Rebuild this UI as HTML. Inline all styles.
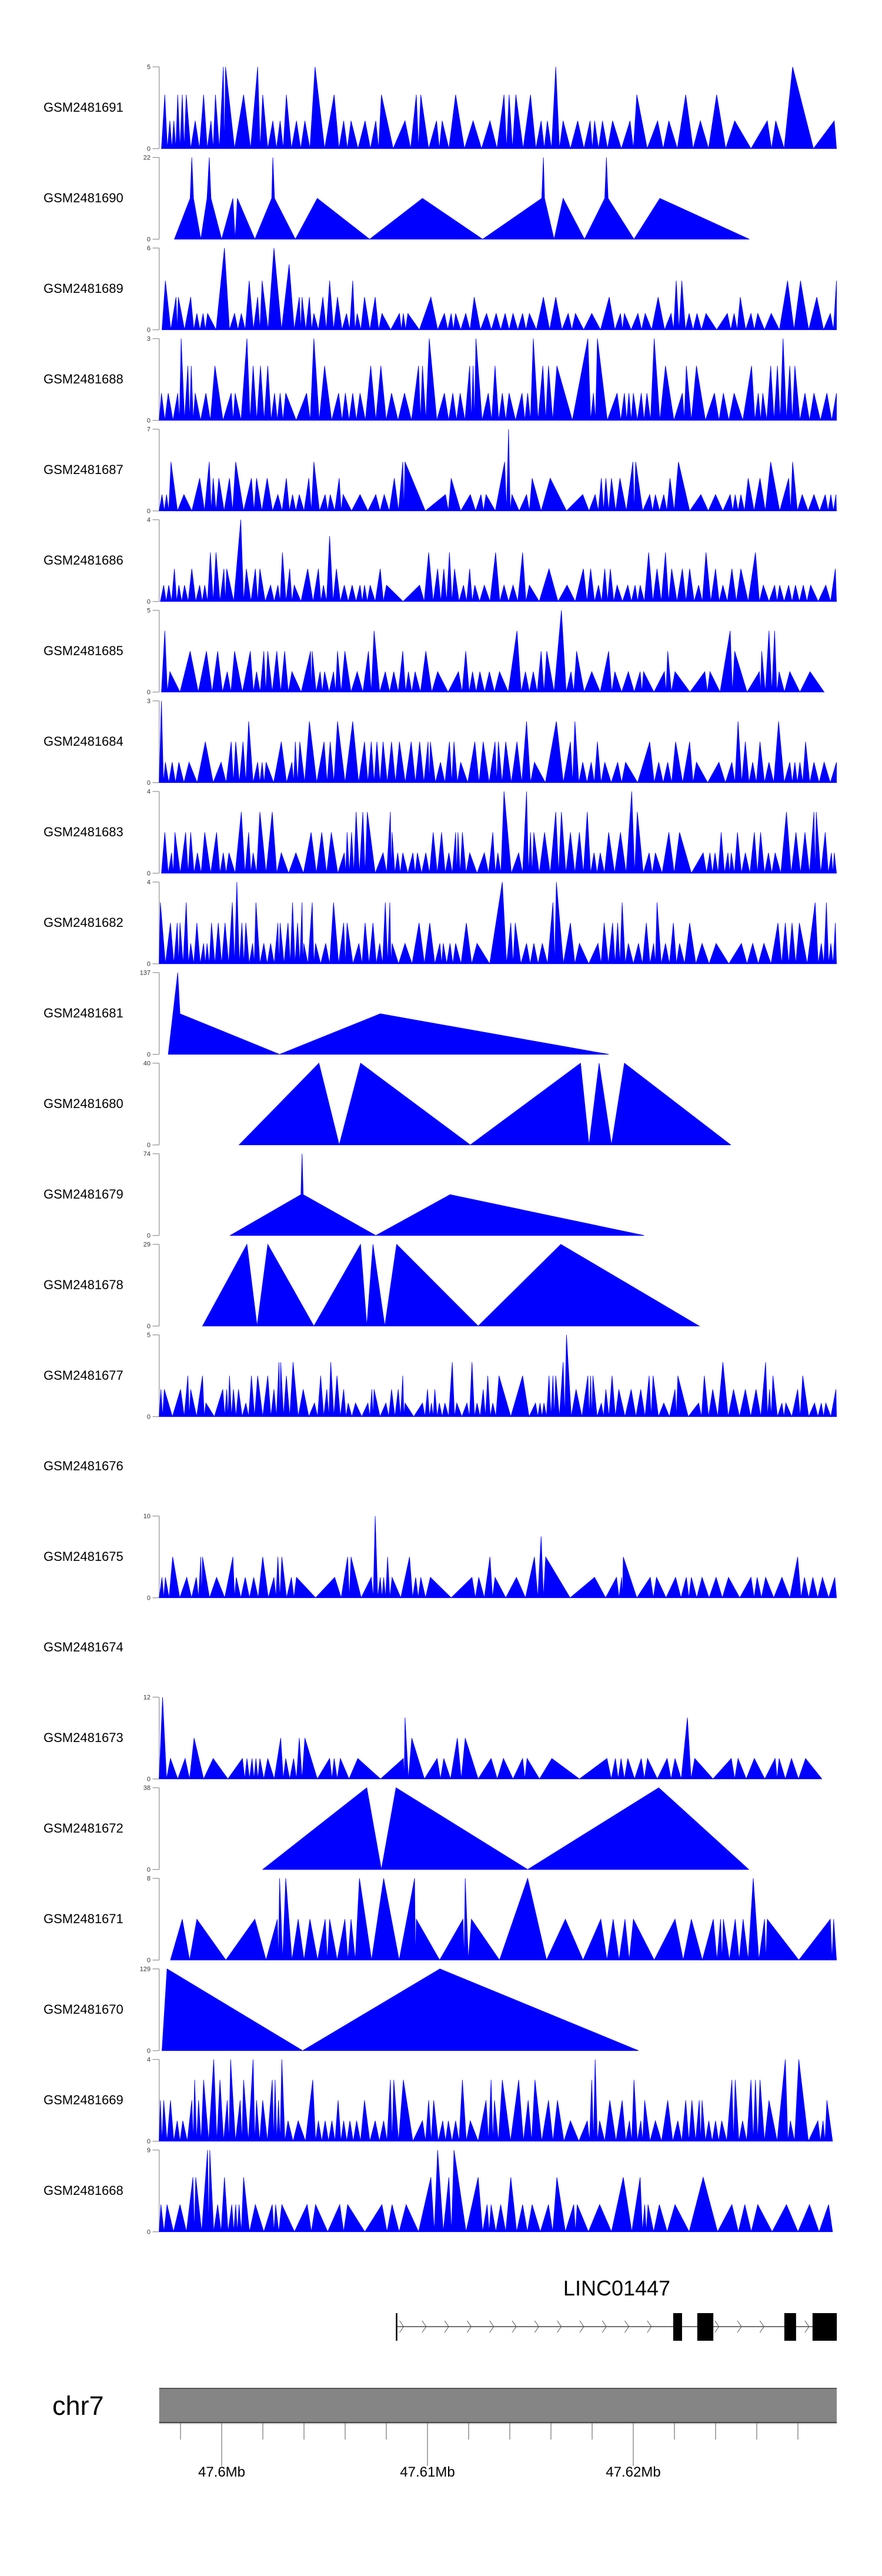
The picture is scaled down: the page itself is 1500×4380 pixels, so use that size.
<!DOCTYPE html>
<html><head><meta charset="utf-8">
<style>
html,body{margin:0;padding:0;background:#fff;}
svg{display:block;font-family:"Liberation Sans",Arial,sans-serif;}
</style></head>
<body>
<svg id="chart" width="1500" height="4380" viewBox="0 0 1500 4380" xmlns="http://www.w3.org/2000/svg"></svg>
<script>
// ---- data ----
const sampleNames = ["GSM2481691","GSM2481690","GSM2481689","GSM2481688","GSM2481687","GSM2481686","GSM2481685","GSM2481684","GSM2481683","GSM2481682","GSM2481681","GSM2481680","GSM2481679","GSM2481678","GSM2481677","GSM2481676","GSM2481675","GSM2481674","GSM2481673","GSM2481672","GSM2481671","GSM2481670","GSM2481669","GSM2481668"];
const axisMax = [5,22,6,3,7,4,5,3,4,4,137,40,74,29,5,null,10,null,12,38,8,129,4,9];
const trackMode = ["peaks","profile","peaks","peaks","peaks","peaks","peaks","peaks","peaks","peaks","profile","profile","profile","profile","peaks","none","peaks","none","peaks","profile","peaks","profile","peaks","peaks"];
// positions are genomic bin indices (window bins 283..1487)
const cov691 = [[10+283,3.3],[19+283,1.7],[26+283,1.7],[33+283,3.3],[41+283,3.3],[48+283,3.3],[64+283,1.7],[79+283,3.3],[92+283,1.7],[100+283,3.3],[114+283,5],[118+283,5],[150+283,3.3],[175+283,5],[184+283,3.3],[202+283,1.7],[215+283,1.7],[226+283,3.3],[244+283,1.7],[259+283,1.7],[277+283,5],[311+283,3.3],[328+283,1.7],[341+283,1.7],[366+283,1.7],[385+283,1.7],[395+283,3.3],[437+283,1.7],[457+283,3.3],[465+283,3.3],[493+283,1.7],[503+283,1.7],[527+283,3.3],[558+283,1.7],[588+283,1.7],[613+283,3.3],[622+283,3.3],[634+283,3.3],[660+283,3.3],[679+283,1.7],[690+283,1.7],[705+283,5],[718+283,1.7],[744+283,1.7],[766+283,1.7],[774+283,1.7],[788+283,1.7],[806+283,1.7],[837+283,1.7],[849+283,3.3],[886+283,1.7],[906+283,1.7],[936+283,3.3],[962+283,1.7],[991+283,3.3],[1023+283,1.7],[1081+283,1.7],[1096+283,1.7],[1126+283,5],[1200+283,1.7],[1204+283,0]];
const cov690 = [[310,0],[338,11],[341,22],[344,11],[357,0],[368,11],[372,22],[375,11],[394,0],[414,11],[418,0],[422,11],[453,0],[483,11],[485,22],[488,11],[525,0],[564,11],[657,0],[751,11],[858,0],[963,11],[966,22],[968,11],[985,0],[1001,11],[1039,0],[1075,11],[1078,22],[1081,11],[1127,0],[1173,11],[1332,0]];
const cov689 = [[294,3.6],[313,2.4],[317,2.4],[339,2.4],[350,1.2],[361,1.2],[369,1.2],[399,6],[417,1.2],[429,1.2],[443,3.6],[458,2.4],[466,3.6],[487,6],[514,4.8],[532,2.4],[537,2.4],[550,2.4],[558,1.2],[574,2.4],[586,3.6],[600,2.4],[616,1.2],[627,3.6],[635,1.2],[648,2.4],[667,2.4],[679,1.2],[710,1.2],[717,1.2],[725,1.2],[766,2.4],[790,1.2],[802,1.2],[810,1.2],[828,1.2],[843,2.4],[865,1.2],[882,1.2],[898,1.2],[912,1.2],[929,1.2],[941,1.2],[966,2.4],[988,2.4],[1010,1.2],[1023,1.2],[1052,1.2],[1083,2.4],[1103,1.2],[1110,1.2],[1134,1.2],[1147,1.2],[1170,2.4],[1193,1.2],[1202,3.6],[1212,3.6],[1225,1.2],[1239,1.2],[1255,1.2],[1293,1.2],[1305,1.2],[1316,2.4],[1335,1.2],[1347,1.2],[1371,1.2],[1400,3.6],[1423,3.6],[1452,2.4],[1476,1.2],[1487,3.6]];
const cov688 = [[287,1],[299,1],[316,1],[322,3],[334,2],[340,2],[347,1],[366,1],[382,2],[411,1],[418,1],[439,3],[450,2],[463,2],[476,2],[488,1],[498,1],[508,1],[545,1],[558,3],[577,2],[602,1],[614,1],[627,1],[640,1],[659,2],[677,2],[696,1],[719,1],[744,2],[751,2],[763,3],[790,1],[805,1],[818,1],[835,2],[841,2],[846,3],[868,1],[880,2],[893,1],[905,1],[928,1],[938,1],[948,3],[965,2],[975,2],[990,2],[1045,3],[1055,1],[1062,3],[1097,1],[1110,1],[1118,1],[1126,1],[1140,1],[1150,1],[1163,3],[1183,2],[1213,1],[1220,2],[1238,2],[1270,1],[1286,1],[1305,1],[1336,2],[1348,1],[1356,1],[1370,2],[1382,2],[1392,3],[1404,2],[1413,2],[1431,1],[1447,1],[1470,1],[1487,1]];
const cov687 = [[288,1.4],[296,1.4],[304,4.2],[327,1.4],[355,2.8],[372,4.2],[379,2.8],[389,2.8],[408,2.8],[419,4.2],[447,2.8],[456,2.8],[475,2.8],[494,1.4],[509,2.8],[520,1.4],[532,1.4],[549,2.8],[558,4.2],[578,1.4],[587,1.4],[603,2.8],[610,1.4],[640,1.4],[668,1.4],[683,1.4],[701,2.8],[716,4.2],[720,4.2],[792,1.4],[802,2.8],[836,1.4],[855,1.4],[864,1.4],[897,4.2],[904,7],[910,1.4],[936,1.4],[946,2.8],[978,2.8],[1036,1.4],[1058,1.4],[1069,2.8],[1077,2.8],[1087,2.8],[1102,2.8],[1125,4.2],[1130,4.2],[1155,1.4],[1165,1.4],[1180,1.4],[1191,2.8],[1206,4.2],[1246,1.4],[1272,1.4],[1298,1.4],[1307,1.4],[1317,1.4],[1330,2.8],[1351,2.8],[1370,4.2],[1402,2.8],[1409,4.2],[1426,1.4],[1447,1.4],[1467,1.4],[1477,1.4],[1486,1.4]];
const cov686 = [[291,.8],[300,.8],[310,1.6],[318,.8],[328,.8],[341,1.6],[355,.8],[364,.8],[374,2.4],[384,2.4],[398,1.6],[403,1.6],[428,4],[438,1.6],[454,1.6],[462,1.6],[481,.8],[494,.8],[502,2.4],[515,1.6],[523,.8],[547,1.6],[566,1.6],[575,.8],[586,3.2],[598,1.6],[612,.8],[626,.8],[640,.8],[648,.8],[658,.8],[676,1.6],[687,.8],[746,.8],[762,2.4],[778,1.6],[789,1.6],[799,2.4],[808,1.6],[824,.8],[835,1.6],[844,.8],[861,.8],[881,2.4],[896,.8],[912,.8],[929,2.4],[941,.8],[976,1.6],[1008,.8],[1037,1.6],[1050,1.6],[1064,.8],[1075,1.6],[1085,1.6],[1097,.8],[1116,.8],[1129,.8],[1138,.8],[1153,2.4],[1168,1.6],[1183,2.4],[1194,1.6],[1213,1.6],[1226,1.6],[1242,.8],[1255,2.4],[1272,1.6],[1285,.8],[1301,1.6],[1317,1.6],[1343,2.4],[1357,.8],[1377,.8],[1386,.8],[1402,.8],[1414,.8],[1428,.8],[1441,.8],[1468,.8],[1485,1.6]];
const cov685 = [[293,3.75],[302,1.25],[338,2.5],[367,2.5],[387,2.5],[404,1.25],[417,2.5],[445,2.5],[456,1.25],[469,2.5],[476,2.5],[492,2.5],[506,2.5],[519,1.25],[552,2.5],[555,2.5],[569,1.25],[577,1.25],[593,1.25],[600,2.5],[613,2.5],[635,1.25],[655,2.5],[665,3.75],[685,1.25],[700,1.25],[716,2.5],[726,1.25],[738,1.25],[757,2.5],[778,1.25],[815,1.25],[828,2.5],[840,1.25],[853,1.25],[870,1.25],[888,1.25],[919,3.75],[934,1.25],[948,1.25],[962,2.5],[972,2.5],[998,5],[1015,1.25],[1025,2.5],[1052,1.25],[1082,2.5],[1093,1.25],[1117,1.25],[1138,1.25],[1144,1.25],[1181,1.25],[1187,2.5],[1200,1.25],[1253,1.25],[1262,1.25],[1298,3.75],[1306,2.5],[1350,1.25],[1354,2.5],[1367,3.75],[1377,3.75],[1385,1.25],[1404,1.25],[1440,1.25],[1465,0]];
const cov684 = [[287,3],[294,.75],[306,.75],[318,.75],[336,.75],[365,1.5],[393,.75],[411,1.5],[419,1.5],[432,1.5],[442,2.25],[458,.75],[466,.75],[473,.75],[500,1.5],[519,.75],[525,1.5],[533,1.5],[550,2.25],[576,1.5],[587,1.5],[600,2.25],[627,2.25],[648,1.5],[660,1.5],[670,1.5],[681,1.5],[696,1.5],[710,1.5],[731,1.5],[746,1.5],[761,1.5],[765,1.5],[783,.75],[799,1.5],[807,1.5],[819,.75],[844,1.5],[859,1.5],[880,1.5],[886,1.5],[899,1.5],[919,1.5],[936,2.25],[950,.75],[989,2.25],[1014,1.5],[1022,2.25],[1036,.75],[1051,.75],[1062,1.5],[1075,.75],[1098,.75],[1112,.75],[1155,1.5],[1171,.75],[1187,.75],[1201,1.5],[1226,1.5],[1238,.75],[1278,.75],[1301,.75],[1312,2.25],[1325,1.5],[1338,.75],[1351,1.5],[1367,.75],[1384,2.25],[1404,.75],[1413,.75],[1422,.75],[1432,1.5],[1447,.75],[1465,.75],[1487,.75]];
const cov683 = [[293,2],[305,1],[311,2],[330,2],[339,2],[351,1],[364,2],[385,2],[397,1],[407,1],[429,3],[442,2],[450,1],[462,3],[484,3],[500,1],[526,1],[553,2],[572,2],[589,2],[612,1],[617,2],[625,2],[633,3],[645,3],[653,3],[681,1],[694,3],[697,2],[707,1],[716,1],[734,1],[742,1],[757,1],[770,2],[785,2],[798,1],[810,2],[814,2],[822,2],[835,1],[861,1],[876,2],[885,1],[896,4],[922,1],[936,4],[943,2],[949,2],[968,2],[988,3],[998,3],[1014,2],[1030,2],[1044,3],[1056,1],[1067,1],[1082,2],[1103,2],[1123,4],[1133,3],[1154,1],[1165,1],[1189,2],[1208,2],[1250,1],[1262,1],[1271,1],[1282,2],[1294,1],[1300,1],[1311,2],[1325,1],[1341,2],[1352,2],[1366,1],[1378,1],[1398,3],[1415,2],[1431,2],[1447,3],[1451,3],[1467,2],[1478,1],[1483,1]];
const cov682 = [[285,3],[303,2],[315,2],[320,2],[331,3],[339,1],[350,2],[362,1],[368,1],[376,2],[388,2],[400,2],[413,3],[421,4],[430,2],[437,2],[449,1],[455,3],[469,1],[481,1],[494,2],[498,2],[512,2],[520,3],[529,2],[537,3],[540,1],[555,3],[561,1],[579,1],[593,3],[611,2],[617,2],[638,1],[649,2],[663,2],[675,1],[685,3],[693,3],[697,1],[720,1],[745,2],[764,2],[782,1],[788,1],[800,1],[810,1],[829,2],[848,1],[893,4],[908,2],[916,2],[936,1],[949,1],[964,1],[983,3],[989,4],[1014,2],[1030,1],[1063,1],[1074,2],[1089,2],[1098,2],[1106,3],[1117,1],[1135,1],[1149,2],[1162,1],[1168,3],[1183,1],[1197,2],[1208,1],[1226,2],[1248,1],[1273,1],[1318,1],[1338,1],[1358,1],[1383,2],[1396,2],[1408,2],[1421,2],[1449,3],[1460,1],[1469,3],[1477,1],[1485,2]];
const cov681 = [[299,0],[316,137],[320,68],[497,0],[676,68],[1082,0]];
const cov680 = [[425,0],[567,40],[603,0],[641,40],[836,0],[1032,40],[1047,0],[1065,40],[1087,0],[1110,40],[1299,0]];
const cov679 = [[409,0],[535,37],[537,74],[539,37],[668,0],[800,37],[1145,0]];
const cov678 = [[360,0],[439,29],[457,0],[476,29],[558,0],[641,29],[652,0],[663,29],[684,0],[705,29],[850,0],[997,29],[1243,0]];
const cov677 = [[286,1.67],[292,1.67],[321,1.67],[334,2.5],[339,1.67],[360,2.5],[366,.83],[396,1.67],[403,1.67],[408,2.5],[415,1.67],[424,1.67],[437,.83],[447,2.5],[458,2.5],[476,2.5],[487,1.67],[496,3.33],[499,3.33],[509,2.5],[521,3.33],[539,1.67],[559,.83],[570,2.5],[581,1.67],[588,3.33],[599,2.5],[611,1.67],[619,.83],[632,.83],[654,.83],[661,1.67],[665,1.67],[686,.83],[696,1.67],[708,1.67],[716,2.5],[720,.83],[751,.83],[760,1.67],[767,.83],[773,1.67],[781,.83],[791,.83],[804,3.33],[812,.83],[830,.83],[839,3.33],[848,.83],[859,1.67],[867,2.5],[876,.83],[887,2.5],[929,2.5],[952,.83],[960,.83],[967,.83],[976,2.5],[983,2.5],[988,2.5],[1001,3.33],[1007,5],[1024,1.67],[1045,2.5],[1050,2.5],[1054,2.5],[1069,.83],[1077,1.67],[1088,2.5],[1100,1.67],[1122,1.67],[1139,1.67],[1154,2.5],[1161,2.5],[1180,.83],[1200,1.67],[1205,2.5],[1242,.83],[1252,2.5],[1267,1.67],[1285,3.33],[1304,1.67],[1325,1.67],[1344,1.67],[1361,3.33],[1368,1.67],[1374,2.5],[1390,.83],[1397,.83],[1418,1.67],[1427,2.5],[1448,.83],[1460,.83],[1468,.83],[1486,1.67]];
const cov676 = [];
const cov675 = [[288,2.5],[294,2.5],[307,5],[332,2.5],[349,2.5],[357,5],[360,5],[385,2.5],[414,5],[420,2.5],[436,2.5],[451,2.5],[467,5],[487,2.5],[494,5],[501,5],[518,2.5],[527,2.5],[595,2.5],[618,5],[624,5],[660,2.5],[667,10],[676,2.5],[682,2.5],[689,5],[697,2.5],[728,5],[739,2.5],[748,2.5],[765,2.5],[839,2.5],[851,2.5],[871,5],[880,2.5],[918,2.5],[950,5],[962,7.5],[970,5],[1057,2.5],[1096,2.5],[1105,2.5],[1108,5],[1156,2.5],[1167,2.5],[1201,2.5],[1220,2.5],[1229,2.5],[1248,2.5],[1273,2.5],[1295,2.5],[1335,2.5],[1346,2.5],[1361,2.5],[1390,2.5],[1418,5],[1430,2.5],[1445,2.5],[1462,2.5],[1484,2.5]];
const cov674 = [];
const cov673 = [[283,0],[289,12],[303,3],[329,3],[345,6],[379,3],[431,3],[439,3],[448,3],[455,3],[462,3],[476,3],[499,6],[508,3],[522,3],[532,6],[542,6],[586,3],[594,3],[605,3],[636,3],[717,3],[720,9],[732,6],[777,3],[789,3],[813,6],[827,6],[873,3],[895,3],[929,3],[937,3],[981,3],[1079,3],[1094,3],[1104,3],[1116,3],[1140,3],[1151,3],[1186,3],[1200,3],[1222,9],[1235,3],[1300,3],[1312,3],[1341,3],[1378,3],[1385,3],[1407,3],[1432,3],[1461,0]];
const cov672 = [[467,0],[652,38],[678,0],[704,38],[938,0],[1171,38],[1331,0]];
const cov671 = [[303,0],[324,4],[350,4],[453,4],[493,4],[497,8],[508,8],[530,4],[551,4],[578,4],[586,4],[613,4],[624,4],[639,8],[682,8],[737,8],[740,4],[823,4],[827,8],[838,4],[938,8],[1005,4],[1068,4],[1090,4],[1111,4],[1126,4],[1200,4],[1229,4],[1268,4],[1281,4],[1286,4],[1307,4],[1321,4],[1339,8],[1359,4],[1364,4],[1476,4],[1482,4],[1487,0]];
const cov670 = [[288,0],[297,129],[538,0],[782,129],[1135,0]];
const cov669 = [[285,2],[291,2],[303,2],[315,1],[325,1],[341,2],[346,3],[353,2],[362,3],[380,4],[391,3],[404,2],[410,4],[427,2],[433,3],[450,4],[456,2],[467,2],[484,3],[489,3],[495,2],[501,4],[512,1],[530,1],[556,3],[566,1],[578,1],[590,1],[601,2],[611,1],[622,1],[634,1],[648,2],[667,1],[682,1],[694,3],[700,3],[717,3],[751,1],[762,2],[771,2],[787,1],[797,1],[810,1],[822,3],[836,1],[864,2],[873,3],[879,2],[893,3],[922,3],[939,2],[951,3],[975,2],[991,2],[1014,1],[1044,1],[1052,3],[1058,4],[1066,1],[1084,2],[1106,2],[1119,1],[1127,3],[1139,1],[1146,2],[1165,1],[1187,2],[1205,1],[1219,2],[1230,2],[1243,2],[1248,2],[1260,1],[1272,1],[1283,1],[1301,3],[1307,3],[1320,1],[1335,3],[1343,3],[1351,3],[1367,2],[1396,4],[1405,1],[1420,4],[1454,1],[1463,1],[1470,2],[1480,0]];
const cov668 = [[286,3],[297,3],[320,3],[343,6],[348,6],[369,9],[373,9],[387,3],[399,6],[412,3],[419,3],[425,3],[433,6],[454,3],[484,3],[490,3],[501,3],[546,3],[561,3],[604,3],[618,3],[679,3],[697,3],[722,3],[766,6],[778,9],[798,6],[807,9],[850,6],[866,3],[873,3],[890,3],[908,6],[929,3],[946,3],[975,3],[990,6],[1020,3],[1026,3],[1066,3],[1108,6],[1138,6],[1146,3],[1152,3],[1172,3],[1200,3],[1250,6],[1301,3],[1324,3],[1347,3],[1398,3],[1439,3],[1473,3],[1480,0]];
const coverage = [cov691,cov690,cov689,cov688,cov687,cov686,cov685,cov684,cov683,cov682,cov681,cov680,cov679,cov678,cov677,cov676,cov675,cov674,cov673,cov672,cov671,cov670,cov669,cov668];
// genome axis
const axisTicksMb = [47.598,47.600,47.602,47.604,47.606,47.608,47.610,47.612,47.614,47.616,47.618,47.620,47.622,47.624,47.626,47.628];
const axisMajorMb = [47.60,47.61,47.62];
const axisMajorLabels = ["47.6Mb","47.61Mb","47.62Mb"];
// gene model (Mb)
const geneName = "LINC01447";
const geneStartMb = 47.60850;
const geneEndMb = 47.63130;
const exonStartMb = [47.62194,47.62311,47.62734,47.62871];
const exonEndMb = [47.62237,47.62389,47.62791,47.62989];
</script>
<script>
const NS = "http://www.w3.org/2000/svg";
const svg = document.getElementById('chart');
function mk(tag, attrs, parent){ const e=document.createElementNS(NS,tag); for(const k in attrs) e.setAttribute(k,attrs[k]); (parent||svg).appendChild(e); return e; }
// scales
const binX = b => b*0.9567;              // bin -> px
const mbX = mb => 377 + (mb-47.6)*35000; // Mb -> px
const TOP0 = 113.7, PITCH = 154, H = 139;
function yScale(v, max, bottom){ return bottom - v/max*H; }

sampleNames.forEach((name,i)=>{
  const top = TOP0 + i*PITCH, bottom = top + H;
  const g = mk('g',{});
  
  
  const lab = mk('text',{x:74,y:top+H/2+7,'font-size':22,fill:'#000'},g);
  lab.textContent = name;
  
  
  const max = axisMax[i];
  if (max === null) return;
  // axis
  const ax = mk('g',{},g);
  
  
  mk('line',{x1:270.7,x2:270.7,y1:top,y2:bottom,stroke:'#999','stroke-width':1.3},ax);
  [[0,bottom],[max,top]].forEach(([v,y])=>{
    mk('line',{x1:259.5,x2:270.7,y1:y,y2:y,stroke:'#999','stroke-width':1.3},ax);
    const t = mk('text',{x:256,y:y+4,'font-size':11,'text-anchor':'end',fill:'#333'},ax);
    t.textContent = v;
  });
  // coverage polygon
  const data = coverage[i].slice().sort((a,b)=>a[0]-b[0]);
  if (!data.length) return;
  const pts = [];
  const mode = trackMode[i];
  if (mode === 'peaks') {
    if (data[0][1] > 0) pts.push([Math.max(283, data[0][0]-6), 0]);
    for (let k=0;k<data.length;k++){
      if (k>0 && data[k-1][1]>0 && data[k][1]>0) pts.push([(data[k-1][0]+data[k][0])/2, 0]);
      pts.push(data[k]);
    }
    const last = data[data.length-1];
    if (last[1] > 0) pts.push([Math.min(1487, last[0]+6), 0]);
  } else {
    data.forEach(d=>pts.push(d));
  }
  const first = pts[0][0], lastX = pts[pts.length-1][0];
  let dstr = 'M' + binX(first).toFixed(1) + ',' + bottom.toFixed(1);
  pts.forEach(p=>{ dstr += ' L' + binX(p[0]).toFixed(1) + ',' + yScale(p[1],max,bottom).toFixed(1); });
  dstr += ' L' + binX(lastX).toFixed(1) + ',' + bottom.toFixed(1) + ' Z';
  const path = mk('path',{d:dstr,fill:'#0000FF',stroke:'#0000FF','stroke-width':0.8,'stroke-linejoin':'miter'},g);
  
  
});

// gene track
const gg = mk('g',{});


const gl = mk('text',{x:1049,y:3903,'font-size':36,'text-anchor':'middle',fill:'#000'},gg);
gl.textContent = geneName;


const gx0 = mbX(geneStartMb), gx1 = mbX(exonEndMb[exonEndMb.length-1]);
mk('line',{x1:gx0,x2:gx1,y1:3956,y2:3956,stroke:'#444','stroke-width':1.5},gg);
mk('line',{x1:gx0,x2:gx0,y1:3933,y2:3980,stroke:'#000','stroke-width':2.5},gg);
for (let cx = gx0+8; cx < gx1-10; cx += 38.3) {
  let inside = false;
  exonStartMb.forEach((s,k)=>{ if (cx > mbX(s)-8 && cx < mbX(exonEndMb[k])+2) inside = true; });
  if (inside) continue;
  mk('polyline',{points:`${cx-3},${3946} ${cx+4},${3956} ${cx-3},${3966}`,fill:'none',stroke:'#555','stroke-width':1},gg);
}
exonStartMb.forEach((s,k)=>{
  const r = mk('rect',{x:mbX(s),y:3933,width:mbX(exonEndMb[k])-mbX(s),height:47,fill:'#000'},gg);
  
  
});

// chromosome axis
const cg = mk('g',{});


const chrLab = mk('text',{x:89,y:4106,'font-size':45,fill:'#000'},cg);
chrLab.textContent = 'chr7';


const bar = mk('rect',{x:270.7,y:4061,width:1423-270.7,height:58,fill:'#858585'},cg);


mk('line',{x1:270.7,x2:1423,y1:4061,y2:4061,stroke:'#555','stroke-width':2},cg);
mk('line',{x1:270.7,x2:1423,y1:4119,y2:4119,stroke:'#444','stroke-width':2},cg);
mk('line',{x1:270.7,x2:1423,y1:4121,y2:4121,stroke:'#ccc','stroke-width':1.5},cg);
axisTicksMb.forEach(mb=>{
  mk('line',{x1:mbX(mb),x2:mbX(mb),y1:4120,y2:4148,stroke:'#555','stroke-width':1},cg);
});
axisMajorMb.forEach((mb,k)=>{
  mk('line',{x1:mbX(mb),x2:mbX(mb),y1:4120,y2:4193,stroke:'#555','stroke-width':1},cg);
  const t = mk('text',{x:mbX(mb),y:4211,'font-size':24,'text-anchor':'middle',fill:'#000'},cg);
  t.textContent = axisMajorLabels[k];
  
  
});
</script>
</body></html>
